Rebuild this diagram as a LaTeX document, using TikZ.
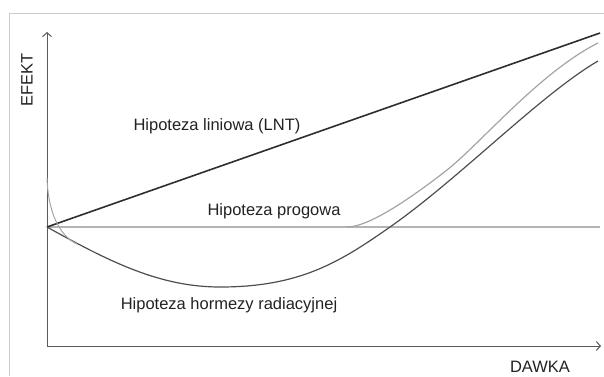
\documentclass[tikz,border=0pt]{standalone}
\usepackage{fontspec}
\setmainfont{Liberation Sans}
\usepackage{xcolor}
\usetikzlibrary{arrows.meta}

\definecolor{framegray}{HTML}{CCCCCC}
\definecolor{axisgray}{HTML}{5A5A5A}
\definecolor{lntdark}{HTML}{2E2E2E}
\definecolor{hormdark}{HTML}{4E4E4E}
\definecolor{proglight}{HTML}{A4A4A4}
\definecolor{zerogray}{HTML}{B4B4B4}
\definecolor{textdark}{HTML}{222222}

\tikzset{
  frameline/.style={framegray, line width=1pt},
  axisline/.style={axisgray, line width=1pt},
  lntline/.style={lntdark, line width=1.6pt},
  hormline/.style={hormdark, line width=1.2pt},
  progline/.style={proglight, line width=1.2pt},
  zeroline/.style={zerogray, line width=2pt},
  label/.style={textdark, inner sep=0pt}
}

\begin{document}
\begin{tikzpicture}[x=1pt, y=-1pt, >={Straight Barb[length=4pt,width=9pt]},
  font=\fontsize{16.5}{19}\selectfont]

  \useasboundingbox (0,0) rectangle (604,376);

  % ----------------------
  % Cornice
  % ----------------------
  \draw[frameline] (9,376) |- (604,13);

  % ----------------------
  % Punti e assi
  % ----------------------
  \coordinate (A) at (47,346);      % angolo degli assi
  \coordinate (O) at (47,227);      % inizio delle curve
  \coordinate (Ytop) at (47,32);
  \coordinate (Xend) at (601,346);
  \coordinate (L) at (600,33);      % fine LNT
  \coordinate (Z) at (600,227);     % fine linea di zero
  \coordinate (M) at (220,287);     % minimo ormesi
  \coordinate (C) at (390,227);     % incrocio ormesi / zero
  \coordinate (H) at (598,61);      % fine ormesi
  \coordinate (T) at (347,227);     % soglia
  \coordinate (T2) at (447,170);
  \coordinate (P) at (598,43);      % fine soglia

  \draw[->, axisline] (A) -- (Ytop);
  \draw[->, axisline] (A) -- (Xend);

  \node[label, rotate=90] (efekt) at (27,80) {EFEKT};
  \node[label, anchor=base] (dawka) at (540,372) {DAWKA};

  % ----------------------
  % Curve
  % ----------------------
  \draw[zeroline] (O) -- (Z);
  \draw[lntline] (O) -- (L);

  \draw[progline] (T) .. controls (370,227) and (415,195) .. (T2)
    .. controls (480,144) and (540,72) .. (P);

  \draw[hormline] (O) .. controls (110,262) and (160,287) .. (M)
    .. controls (300,287) and (340,262) .. (C)
    .. controls (460,178) and (540,95) .. (H);

  \draw[progline, line width=1pt] (47,178) .. controls (48,210) and (58,235) .. (77,244);

  % ----------------------
  % Etichette
  % ----------------------
  \node[label, anchor=base] (lnt) at (217,130) {Hipoteza liniowa (LNT)};
  \node[label, anchor=base] (prog) at (274,215) {Hipoteza progowa};
  \node[label, anchor=base] (horm) at (229,309) {Hipoteza hormezy radiacyjnej};

\end{tikzpicture}
\end{document}
